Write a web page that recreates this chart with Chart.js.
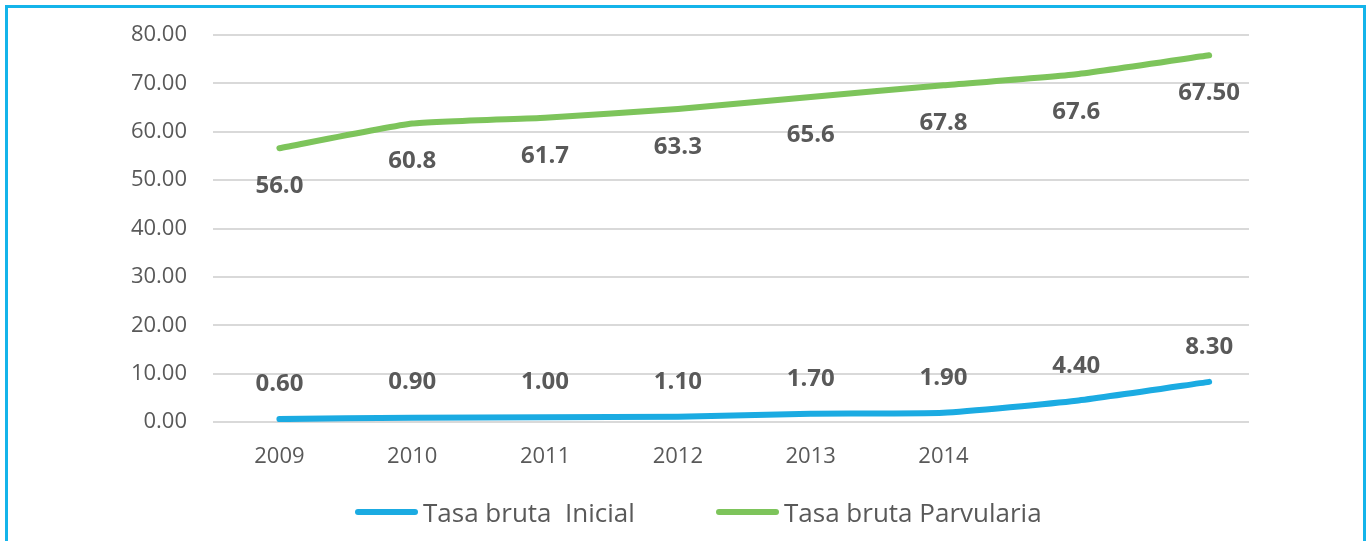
<!DOCTYPE html>
<html>
<head>
<meta charset="utf-8">
<script src="https://cdn.jsdelivr.net/npm/chart.js@4/dist/chart.umd.min.js"></script>
<style>
  html, body { margin: 0; padding: 0; background: #fff; }
  #wrap { position: relative; width: 1367px; height: 541px; overflow: hidden; }
  #frame { position: absolute; left: 5px; top: 5px; width: 1355px; height: 600px; border: 3px solid #14b4ea; }
  canvas { position: absolute; left: 0; top: 0; }
  .lg { position: absolute; top: 494px; height: 36px; display: flex; align-items: center;
        font: 26px "Open Sans"; color: #595959; white-space: pre; }
  .lg span.bar { display: inline-block; width: 63px; height: 6px; border-radius: 3px; margin-right: 5px; }
</style>
</head>
<body>
<div id="wrap">
  <div id="frame"></div>
  <canvas id="chart" width="1367" height="541"></canvas>
  <div id="legend"></div>
</div>
<script>
// categorías (las dos últimas sin etiqueta en el original)
const years = ['2009', '2010', '2011', '2012', '2013', '2014', '', ''];

// valores de las líneas
const inicialValues = [0.6, 0.9, 1.0, 1.1, 1.7, 1.9, 4.4, 8.3];
const parvulariaValues = [56.6, 61.7, 62.9, 64.7, 67.2, 69.6, 71.9, 75.8];

// etiquetas de datos tal como aparecen
const inicialLabels = ['0.60', '0.90', '1.00', '1.10', '1.70', '1.90', '4.40', '8.30'];
const parvulariaLabels = ['56.0', '60.8', '61.7', '63.3', '65.6', '67.8', '67.6', '67.50'];

const yTicks = [0, 10, 20, 30, 40, 50, 60, 70, 80];

const BLUE = '#1babe2';
const GREEN = '#7dc45b';
const TEXT = '#595959';

// dibuja las etiquetas de datos
const dataLabels = {
  id: 'dataLabels',
  afterDatasetsDraw(chart) {
    const ctx = chart.ctx;
    ctx.save();
    ctx.font = 'bold 24px "Open Sans"';
    ctx.fillStyle = TEXT;
    ctx.textAlign = 'center';
    ctx.textBaseline = 'middle';
    chart.data.datasets.forEach((ds, i) => {
      const meta = chart.getDatasetMeta(i);
      meta.data.forEach((pt, j) => {
        ctx.fillText(ds.valueLabels[j], pt.x, pt.y + ds.labelOffset);
      });
    });
    ctx.restore();
  }
};

const ctx = document.getElementById('chart').getContext('2d');
const chart = new Chart(ctx, {
  type: 'line',
  data: {
    datasets: [{
      label: 'Tasa bruta  Inicial',
      data: inicialValues.map((v, i) => ({ x: i, y: v })),
      valueLabels: inicialLabels,
      labelOffset: -35,
      borderColor: BLUE,
      backgroundColor: BLUE,
      borderWidth: 6,
      borderCapStyle: 'round',
      pointRadius: 0,
      tension: 0.15,
      fill: false,
    }, {
      label: 'Tasa bruta Parvularia',
      data: parvulariaValues.map((v, i) => ({ x: i, y: v })),
      valueLabels: parvulariaLabels,
      labelOffset: 38,
      borderColor: GREEN,
      backgroundColor: GREEN,
      borderWidth: 6,
      borderCapStyle: 'round',
      pointRadius: 0,
      tension: 0.15,
      fill: false,
    }]
  },
  options: {
    responsive: false,
    maintainAspectRatio: false,
    animation: false,
    layout: { padding: { left: 0, right: 118, top: 35, bottom: 50 } },
    plugins: {
      tooltip: { enabled: false },
      legend: { display: false }
    },
    scales: {
      x: {
        type: 'linear',
        min: -0.5,
        max: 7.3,
        grid: { display: false },
        border: { display: false },
        afterBuildTicks: s => { s.ticks = years.map((y, i) => ({ value: i })); },
        afterFit: s => { s.height = 69; },
        ticks: {
          padding: 14,
          color: TEXT,
          font: { family: '"Open Sans"', size: 22 },
          maxRotation: 0,
          autoSkip: false,
          callback: v => years[v],
        }
      },
      y: {
        min: 0,
        max: 80,
        afterBuildTicks: s => { s.ticks = yTicks.map(v => ({ value: v })); },
        afterFit: s => { s.width = 213; s.paddingTop = 0; s.paddingBottom = 0; },
        grid: { color: '#d9d9d9', lineWidth: 2, drawTicks: false },
        border: { display: false },
        ticks: {
          padding: 26,
          color: TEXT,
          font: { family: '"Open Sans"', size: 22 },
          callback: v => v.toFixed(2),
        }
      }
    }
  },
  plugins: [dataLabels]
});

// leyenda en HTML, construida desde los datasets
const legendLeft = [355, 716];
const legendEl = document.getElementById('legend');
chart.data.datasets.forEach((ds, i) => {
  const item = document.createElement('div');
  item.className = 'lg';
  item.style.left = legendLeft[i] + 'px';
  const bar = document.createElement('span');
  bar.className = 'bar';
  bar.style.background = ds.borderColor;
  item.appendChild(bar);
  item.appendChild(document.createTextNode(ds.label));
  legendEl.appendChild(item);
});
</script>
</body>
</html>
